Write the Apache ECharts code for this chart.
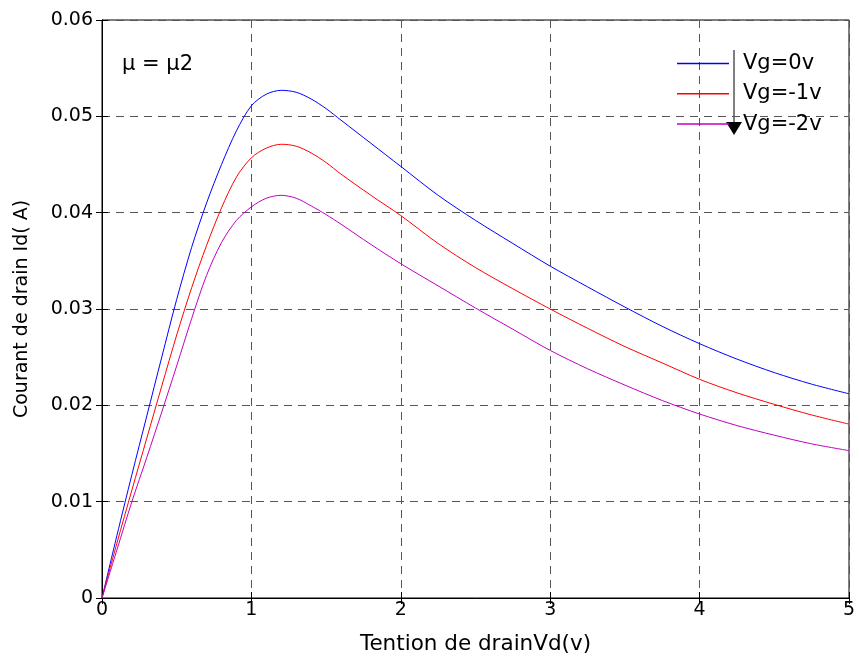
<!DOCTYPE html>
<html>
<head>
<meta charset="utf-8">
<script src="https://cdn.jsdelivr.net/npm/echarts@6/dist/echarts.min.js"></script>
<style>html,body{margin:0;padding:0;background:#fff}#c{width:859px;height:661px}</style>
</head>
<body>
<div id="c"></div>
<script>
const vd = [0,0.1,0.2,0.3,0.4,0.5,0.6,0.7,0.8,0.9,1.0,1.1,1.2,1.3,1.4,1.5,1.6,1.8,2.0,2.25,2.5,2.75,3.0,3.25,3.5,3.75,4.0,4.25,4.5,4.75,5.0];
const idVg0 = [0,0.0065,0.0128,0.0189,0.0250,0.0310,0.0364,0.0410,0.0450,0.0485,0.0511,0.0523,0.0527,0.0525,0.0518,0.0508,0.0496,0.0472,0.0448,0.0418,0.0392,0.0368,0.03445,0.0323,0.0302,0.0282,0.0264,0.0248,0.0234,0.0222,0.0212];
const idVgm1 = [0,0.0057,0.0112,0.0166,0.0220,0.0273,0.0322,0.0366,0.0405,0.0437,0.0457,0.0467,0.0471,0.0469,0.0462,0.0452,0.0440,0.0418,0.0397,0.0368,0.0343,0.0321,0.0300,0.0280,0.0261,0.0244,0.0227,0.0213,0.0201,0.0190,0.01805];
const idVgm2 = [0,0.0050,0.0100,0.0146,0.0193,0.0241,0.0290,0.0335,0.0369,0.0392,0.0406,0.0415,0.0418,0.0415,0.0407,0.0398,0.0388,0.0367,0.0347,0.0324,0.0301,0.0279,0.0257,0.0238,0.0221,0.0205,0.0191,0.0179,0.0169,0.0160,0.0153];
const seriesNames = ['Vg=0v','Vg=-1v','Vg=-2v'];
const xTicks = [0,1,2,3,4,5];
const yTicks = [0,0.01,0.02,0.03,0.04,0.05,0.06];

const FONT = 'DejaVu Sans, sans-serif';
const colors = ['#0000ff','#ff0000','#c000c0'];
const pairs = arr => vd.map((x,i)=>[x,arr[i]]);

const chart = echarts.init(document.getElementById('c'));
const splitStyle = {show:true, lineStyle:{color:'#555', type:[8,6], width:1}};
chart.setOption({
  animation:false,
  backgroundColor:'#fff',
  grid:{left:102,right:10,top:20,bottom:63,show:true,borderColor:'#000',borderWidth:1,backgroundColor:'transparent'},
  xAxis:[{
    type:'value',min:xTicks[0],max:xTicks[xTicks.length-1],interval:1,
    name:'Tention de drainVd(v)',nameLocation:'middle',nameGap:35,
    nameTextStyle:{fontFamily:FONT,fontSize:21.5,color:'#000'},
    axisLine:{show:true,lineStyle:{color:'#000'}},
    axisTick:{show:true,inside:true,length:6,lineStyle:{color:'#000'}},
    axisLabel:{fontFamily:FONT,fontSize:19,color:'#000',margin:3,formatter:v=>String(v)},
    splitLine:splitStyle
  },{
    type:'value',min:xTicks[0],max:xTicks[xTicks.length-1],interval:1,position:'top',
    axisLine:{show:true,lineStyle:{color:'#000'}},
    axisTick:{show:true,inside:true,length:6,lineStyle:{color:'#000'}},
    axisLabel:{show:false},splitLine:{show:false}
  }],
  yAxis:[{
    type:'value',min:yTicks[0],max:yTicks[yTicks.length-1],interval:0.01,
    name:'Courant de drain Id( A)',nameLocation:'middle',nameGap:70,
    nameTextStyle:{fontFamily:FONT,fontSize:19,color:'#000'},
    axisLine:{show:true,lineStyle:{color:'#000'}},
    axisTick:{show:true,inside:true,length:6,lineStyle:{color:'#000'}},
    axisLabel:{fontFamily:FONT,fontSize:19,color:'#000',margin:9,formatter:v=>v===0?'0':v.toFixed(2)},
    splitLine:splitStyle
  },{
    type:'value',min:yTicks[0],max:yTicks[yTicks.length-1],interval:0.01,position:'right',
    axisLine:{show:true,lineStyle:{color:'#000'}},
    axisTick:{show:true,inside:true,length:6,lineStyle:{color:'#000'}},
    axisLabel:{show:false},splitLine:{show:false}
  }],
  legend:{
    left:672,top:48,orient:'vertical',itemGap:9.3,
    itemWidth:52,itemHeight:1.5,icon:'rect',
    data:seriesNames,
    textStyle:{fontFamily:FONT,fontSize:21,color:'#000',padding:[0,0,0,9],lineHeight:21},
    selectedMode:false
  },
  graphic:[
    {type:'text',left:122,top:54,style:{text:'μ = μ2',font:'21px '+FONT,fill:'#000'}},
    {type:'line',shape:{x1:734,y1:50,x2:734,y2:124},style:{stroke:'#000',lineWidth:1}},
    {type:'polygon',shape:{points:[[726,122],[742,122],[734,135]]},style:{fill:'#000'}}
  ],
  series:[
    {name:seriesNames[0],type:'line',data:pairs(idVg0),showSymbol:false,smooth:0.3,lineStyle:{width:1,color:colors[0]},itemStyle:{color:colors[0]}},
    {name:seriesNames[1],type:'line',data:pairs(idVgm1),showSymbol:false,smooth:0.3,lineStyle:{width:1,color:colors[1]},itemStyle:{color:colors[1]}},
    {name:seriesNames[2],type:'line',data:pairs(idVgm2),showSymbol:false,smooth:0.3,lineStyle:{width:1,color:colors[2]},itemStyle:{color:colors[2]}}
  ]
});
</script>
</body>
</html>
